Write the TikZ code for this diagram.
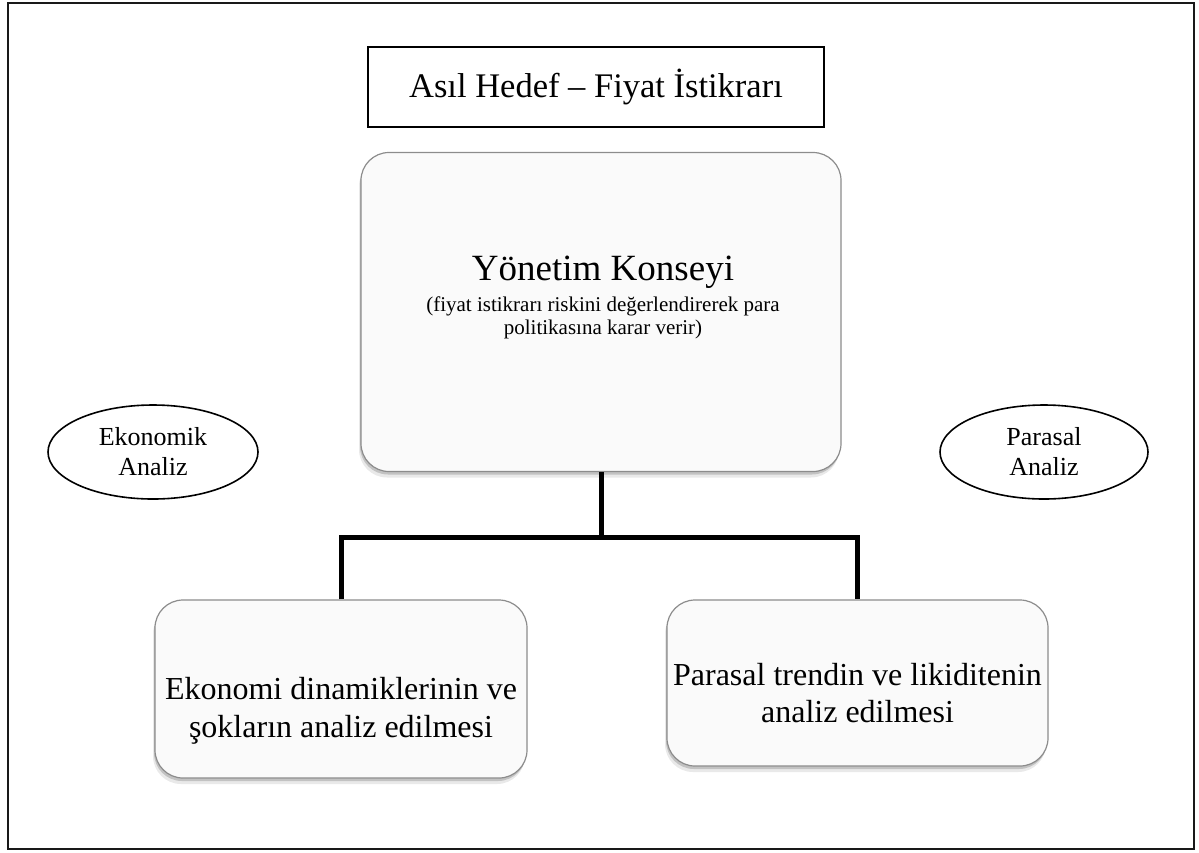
\documentclass[tikz,border=0pt]{standalone}
\usepackage{fontspec}
\setmainfont{Liberation Serif}
\usetikzlibrary{shapes.geometric,shadows}

\begin{document}
\begin{tikzpicture}
        [%%%%%%%%%%%%%%%%%%%%%%%%%%%%%%
            x=1pt,y=-1pt,
            kutu/.style={draw=black!45, line width=1.2pt, fill=black!2, rounded corners=28pt,
                drop shadow={shadow xshift=-2pt, shadow yshift=-6pt, opacity=0.12, fill=black!70},
                drop shadow={shadow xshift=-1pt, shadow yshift=-3pt, opacity=0.25, fill=black!70}},
            hedef/.style={draw=black, line width=2pt, minimum width=456, minimum height=80, font=\fontsize{34.5}{40}\selectfont},
            analiz/.style={ellipse, draw=black, line width=1.6pt, inner sep=0pt, align=center, font=\fontsize{26}{30}\selectfont},
            metin/.style={align=center, font=\fontsize{32}{37.5}\selectfont},
            bar/.style={line width=5pt},
        ]%%%%%%%%%%%%%%%%%%%%%%%%%%%%%%

        \useasboundingbox (0,0) rectangle (1199,852);
        \draw[line width=2pt, black!90] (8,3) rectangle (1194,849);

        \node[hedef] (hedef) at (596,87) {Asıl Hedef – Fiyat İstikrarı};

        \node[kutu, minimum width=480, minimum height=319] (konsey) at (601,312) {};
        \node[font=\fontsize{37}{44}\selectfont] (konseybaslik) at (603,272) {Yönetim Konseyi};
        \node[align=center, font=\fontsize{21}{23.5}\selectfont] (konseyaciklama) at (603,318)
            {(fiyat istikrarı riskini değerlendirerek para\\ politikasına karar verir)};

        \node[analiz, minimum width=210, minimum height=94] (ekonomik) at (153,452) {Ekonomik\\ Analiz};
        \node[analiz, minimum width=208, minimum height=94] (parasalanaliz) at (1044,452) {Parasal\\ Analiz};

        \node[kutu, minimum width=372, minimum height=178] (ekonomi) at (341,689) {};
        \node[metin] (ekonomimetin) at (341,711) {Ekonomi dinamiklerinin ve\\ şokların analiz edilmesi};

        \node[kutu, minimum width=381, minimum height=166] (parasal) at (857.5,683) {};
        \node[metin] (parasalmetin) at (857.5,693) {Parasal trendin ve likiditenin\\ analiz edilmesi};

        \coordinate (catal) at (601,537);
        \draw[bar] (konsey.south) -- (catal);
        \draw[bar] (ekonomi.north) |- (catal) -| (parasal.north);
    \end{tikzpicture}
\end{document}
